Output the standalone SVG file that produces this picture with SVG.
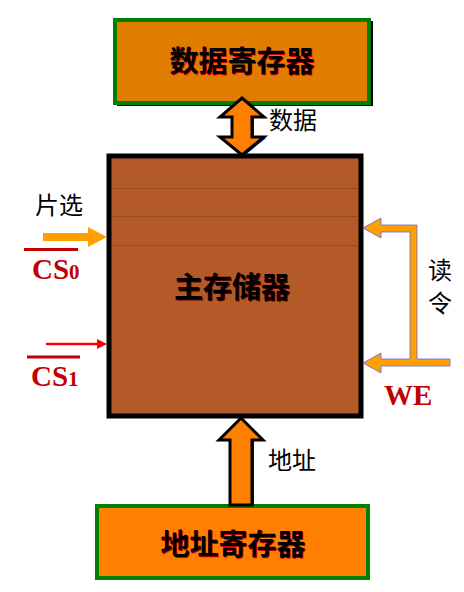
<svg xmlns="http://www.w3.org/2000/svg" width="464" height="592" viewBox="0 0 464 592">
<style>
.cjk{font-family:"Noto Sans CJK SC","Noto Sans",sans-serif;fill:#000}
.title{font-size:29px;font-weight:bold}
.lbl{font-size:24px}
.red{font-family:"Liberation Serif",serif;font-weight:bold;fill:#C00000}
.arrow{fill:#FF8000;stroke:#000;stroke-width:3;stroke-linejoin:miter}
.sig{fill:#FFA000}
</style>
<rect width="464" height="592" fill="#fff"/>
<g id="data-register">
<rect x="117" y="21" width="256" height="85" fill="#000"/>
<rect x="115" y="20" width="254" height="83" fill="#E07D00" stroke="#008000" stroke-width="4"/>
<text class="cjk title" x="243" y="73" text-anchor="middle" style="fill:#D00000">数据寄存器</text>
<text class="cjk title" x="242" y="72" text-anchor="middle">数据寄存器</text>
</g>
<g id="main-memory">
<rect x="109" y="156" width="252" height="260" fill="#B45A28" stroke="#000" stroke-width="5"/>
<g stroke="#8A3A14" stroke-width="1" stroke-dasharray="1,1">
<line x1="112" y1="188.5" x2="358" y2="188.5"/>
<line x1="112" y1="216.5" x2="358" y2="216.5"/>
<line x1="112" y1="245.5" x2="358" y2="245.5"/>
</g>
<text class="cjk title" x="233" y="299" text-anchor="middle" style="fill:#600000">主存储器</text>
<text class="cjk title" x="232" y="298" text-anchor="middle">主存储器</text>
</g>
<g id="address-register">
<rect x="97" y="506" width="271" height="72" fill="#FF8000" stroke="#008000" stroke-width="4"/>
<text class="cjk title" x="234" y="556" text-anchor="middle" style="fill:#D00000">地址寄存器</text>
<text class="cjk title" x="233" y="555" text-anchor="middle">地址寄存器</text>
</g>
<g id="connectors">
<path d="M242,98 L264,117 L252,117 L252,137 L264,137 L242,155 L220,137 L232,137 L232,117 L220,117 Z" fill="#0000FF" transform="translate(2,1)"/>
<path class="arrow" d="M242,98 L264,117 L252,117 L252,137 L264,137 L242,155 L220,137 L232,137 L232,117 L220,117 Z"/>
<path d="M241,418 L263,440 L252,440 L252,505 L230,505 L230,440 L219,440 Z" fill="#0000FF" transform="translate(2,1)"/>
<path class="arrow" d="M241,418 L263,440 L252,440 L252,505 L230,505 L230,440 L219,440 Z"/>
<path class="sig" d="M107,237 L88,227 L88,233 L43,233 L43,241 L88,241 L88,247 Z"/>
<line x1="46" y1="344" x2="100" y2="344" stroke="#FF0000" stroke-width="2.5"/>
<path d="M107,344 L97,339 L97,349 Z" fill="#FF0000"/>
<path class="sig" d="M363,228 L381,218 L381,225 L417,225 L417,359 L450,359 L450,366 L381,366 L381,373 L363,363 L381,353 L381,359 L410,359 L410,232 L381,232 L381,238 Z" stroke="#7060E0" stroke-width="0.8"/>
</g>
<g id="labels">
<text class="cjk lbl" x="293" y="129" text-anchor="middle">数据</text>
<text class="cjk lbl" x="292" y="469" text-anchor="middle">地址</text>
<text class="cjk lbl" x="59" y="214" text-anchor="middle">片选</text>
<text class="cjk lbl" x="440" y="279" text-anchor="middle">读</text>
<text class="cjk lbl" x="440" y="312" text-anchor="middle">令</text>
<line x1="24" y1="249.5" x2="78" y2="249.5" stroke="#C00000" stroke-width="3"/>
<text class="red" x="32" y="279" font-size="29">CS<tspan font-size="21">0</tspan></text>
<line x1="27" y1="357" x2="80" y2="357" stroke="#C00000" stroke-width="3"/>
<text class="red" x="31" y="386" font-size="29">CS<tspan font-size="21">1</tspan></text>
<text class="red" x="384" y="405" font-size="29">WE</text>
</g>
</svg>
